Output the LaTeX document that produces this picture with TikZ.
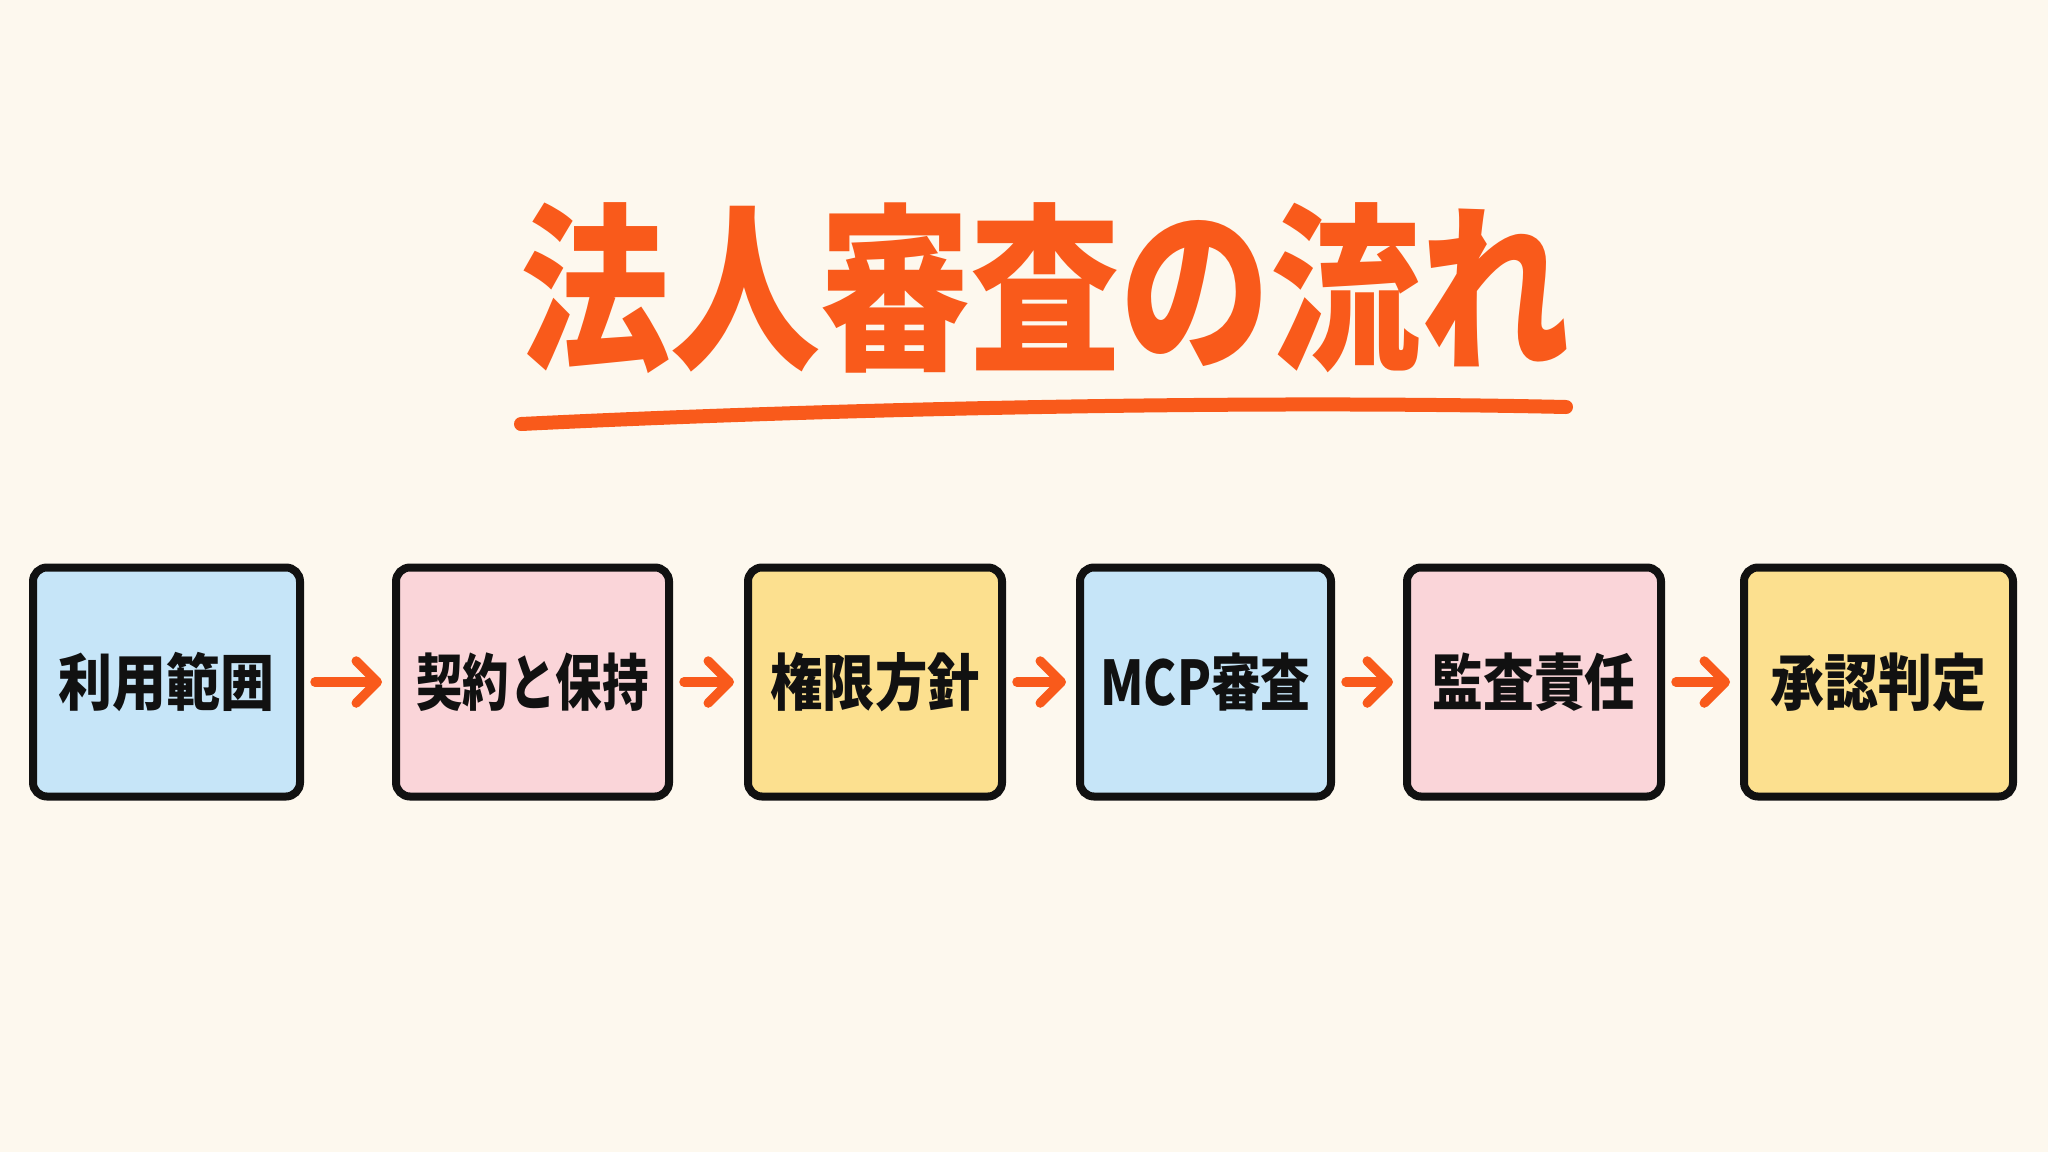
\documentclass[tikz,border=0pt]{standalone}
\usepackage{fontspec}
\newfontfamily\jp{Noto Sans CJK JP}
\usetikzlibrary{arrows.meta}
\definecolor{bg}{HTML}{FDF8EE}
\definecolor{ttl}{HTML}{F95A1B}
\definecolor{cblue}{HTML}{C6E5F8}
\definecolor{cpink}{HTML}{FAD5D9}
\definecolor{cyell}{HTML}{FCE08F}
\definecolor{ink}{HTML}{111111}
\newcommand{\lbl}[2][1]{\scalebox{#1}[1.14]{\fontsize{54}{60}\selectfont\jp\bfseries #2}}
\tikzset{
  box/.style={draw=ink, line width=8pt, rounded corners=14pt, minimum height=229pt, inner sep=0pt, text=ink},
  arr/.style={draw=ttl, line width=9.5pt, line cap=round, shorten <=11pt, shorten >=10pt,
    -{Straight Barb[length=21pt,width=42pt,line width=9.5pt,round]}}
}
\begin{document}
\begin{tikzpicture}[x=1pt,y=-1pt]
\useasboundingbox (0,0) rectangle (2048,1152);
\fill[bg] (0,0) rectangle (2048,1152);
\node[text=ttl, inner sep=0pt] (title) at (1045,288)
  {\scalebox{1}[1.2]{\fontsize{150}{160}\selectfont\jp\bfseries 法人審査の流れ}};
\draw[ttl, line width=14pt, line cap=round] (521,424) .. controls (850,408) and (1250,400) .. (1566,407);
\node[box, fill=cblue, minimum width=267pt] (b1) at (166.5,682) {\lbl{利用範囲}};
\node[box, fill=cpink, minimum width=273pt] (b2) at (532.5,682) {\lbl[0.86]{契約と保持}};
\node[box, fill=cyell, minimum width=254pt] (b3) at (875,682) {\lbl[0.97]{権限方針}};
\node[box, fill=cblue, minimum width=251pt] (b4) at (1205.5,682) {\lbl[0.92]{MCP審査}};
\node[box, fill=cpink, minimum width=254pt] (b5) at (1534,682) {\lbl[0.94]{監査責任}};
\node[box, fill=cyell, minimum width=269pt] (b6) at (1878.5,682) {\lbl{承認判定}};
\draw[arr] (b1) -- (b2);
\draw[arr] (b2) -- (b3);
\draw[arr] (b3) -- (b4);
\draw[arr] (b4) -- (b5);
\draw[arr] (b5) -- (b6);
\end{tikzpicture}
\end{document}
